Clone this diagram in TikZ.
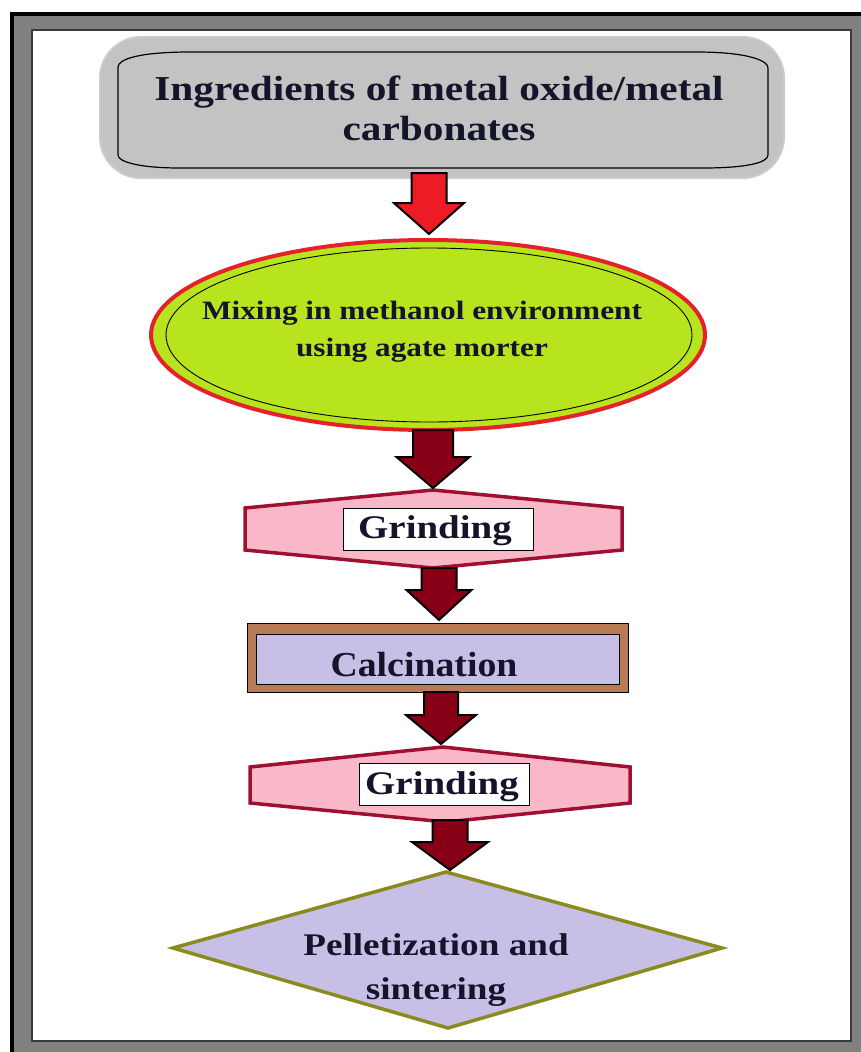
\documentclass[tikz,border=0pt]{standalone}
\usepackage{fontspec}
\setmainfont[FakeStretch=1.18]{Liberation Serif}
\newfontfamily\calcfont[FakeStretch=1.08]{Liberation Serif}
\usetikzlibrary{calc,shapes.geometric}

\definecolor{framegray}{HTML}{808080}
\definecolor{framedark}{HTML}{3A3A3A}
\definecolor{boxgray}{HTML}{C3C3C3}
\definecolor{ellred}{HTML}{E5222A}
\definecolor{limefill}{HTML}{B8E41E}
\definecolor{pinkfill}{HTML}{F9B8C8}
\definecolor{pinkedge}{HTML}{9E1032}
\definecolor{brownedge}{HTML}{B97A57}
\definecolor{lavender}{HTML}{C8BFE7}
\definecolor{oliveedge}{HTML}{8A8A1E}
\definecolor{arrowred}{HTML}{ED1C24}
\definecolor{arrowdark}{HTML}{880015}
\definecolor{inkcol}{HTML}{14142A}

\begin{document}
\begin{tikzpicture}[x=1pt,y=-1pt,
  txt/.style={text=inkcol, align=center, inner sep=0pt},
  flowarrow/.style n args={3}{to path={let \p1=(\tikztostart),\p2=(\tikztotarget) in
    (\x2-#1,\y1) -- (\x2+#1,\y1) -- (\x2+#1,\y2+#3) -- (\x2+#2,\y2+#3) -- (\x2,\y2)
    -- (\x2-#2,\y2+#3) -- (\x2-#1,\y2+#3) -- cycle}},
  redarrow/.style={fill=arrowred, draw=black, line width=2pt, line join=miter},
  darkarrow/.style={fill=arrowdark, draw=black, line width=2pt, line join=miter},
  hexbox/.style={fill=pinkfill, draw=pinkedge, line width=3.5pt, line join=miter},
  whitebox/.style={fill=white, draw=black, line width=1pt, inner sep=0pt},
]
\useasboundingbox (0,0) rectangle (860,1052);

% page frame: black rule, gray band, white panel
\fill[black] (10,12) rectangle (872,1064);
\fill[framegray] (14,16) rectangle (872,1064);
\filldraw[fill=white, draw=framedark, line width=1.5pt] (32,30) rectangle (851,1041);

% starting materials: soft gray pad with outlined panel
\fill[boxgray!85] (99,36) [rounded corners=42pt] -- (785,36) -- (785,179) -- (99,179) -- cycle;
\fill[boxgray] (101,38) [rounded corners=40pt] -- (783,38) -- (783,177) -- (101,177) -- cycle;
\draw[black, line width=1.2pt]
  (190,52) -- (696,52) .. controls (746,52) and (768,60) .. (768,68)
  -- (768,155) .. controls (768,163) and (745,168) .. (703,168)
  -- (180,168) .. controls (140,168) and (118,162) .. (118,155)
  -- (118,67) .. controls (118,59) and (140,52) .. (190,52) -- cycle;
\node[txt, font={\fontsize{35}{40}\selectfont\bfseries}] (ingr) at (439,108)
  {Ingredients of metal oxide/metal\\carbonates};

% mixing step
\node[ellipse, draw=ellred, line width=4pt, fill=limefill, minimum width=554pt,
      minimum height=190pt, inner sep=0pt] (mix) at (428,335) {};
\node[ellipse, draw=black, line width=0.9pt, minimum width=526pt,
      minimum height=174pt, inner sep=0pt] (mixin) at (429,335) {};
\node[txt, font={\fontsize{26.5}{37}\selectfont\bfseries}] (mixtext) at (422,332)
  {Mixing in methanol environment\\using agate morter};

% first grinding
\draw[hexbox] (245,508) -- (433,490) -- (622,508) -- (622,550) -- (433,568) -- (245,550) -- cycle;
\node[whitebox, minimum width=190pt, minimum height=42pt] (grind1box) at (438,529) {};
\node[txt, anchor=base, font={\fontsize{33}{36}\selectfont\bfseries}] (grind1) at (435,538) {Grinding};

% calcination
\filldraw[fill=brownedge, draw=black, line width=1pt] (247,623) rectangle (628,692);
\node[fill=lavender, draw=black, line width=1pt, minimum width=363pt, minimum height=50pt,
      inner sep=0pt] (calcbox) at (437.5,659) {};
\node[txt, anchor=base, font={\calcfont\fontsize{35}{38}\selectfont\bfseries}] (calc) at (424,676) {Calcination};

% second grinding
\draw[hexbox] (250,767) -- (443,747) -- (630,767) -- (630,803) -- (446,822) -- (250,803) -- cycle;
\node[whitebox, minimum width=170pt, minimum height=42pt] (grind2box) at (444,784) {};
\node[txt, anchor=base, font={\fontsize{33}{36}\selectfont\bfseries}] (grind2) at (442,794) {Grinding};

% pelletization and sintering
\draw[fill=lavender, draw=oliveedge, line width=3.5pt, line join=miter]
  (446,872) -- (722,948) -- (448,1028) -- (173,948) -- cycle;
\node[txt, font={\fontsize{31.5}{44}\selectfont\bfseries}] (pellet) at (436,970)
  {Pelletization and\\sintering};

% flow arrows between the steps
\coordinate (a1s) at (429,173);  \coordinate (a1t) at (429,234);
\coordinate (a2s) at (433,430);  \coordinate (a2t) at (433,488);
\coordinate (a3s) at (439,568);  \coordinate (a3t) at (439,620);
\coordinate (a4s) at (441,692);  \coordinate (a4t) at (441,744);
\coordinate (a5s) at (450,820);  \coordinate (a5t) at (450,870);
\draw[redarrow,  flowarrow={17.5pt}{35pt}{31pt}] (a1s) to (a1t);
\draw[darkarrow, flowarrow={20pt}{36.5pt}{31pt}] (a2s) to (a2t);
\draw[darkarrow, flowarrow={17.5pt}{32.5pt}{30pt}] (a3s) to (a3t);
\draw[darkarrow, flowarrow={17pt}{35pt}{29pt}] (a4s) to (a4t);
\draw[darkarrow, flowarrow={17.5pt}{38pt}{28pt}] (a5s) to (a5t);
\end{tikzpicture}
\end{document}
